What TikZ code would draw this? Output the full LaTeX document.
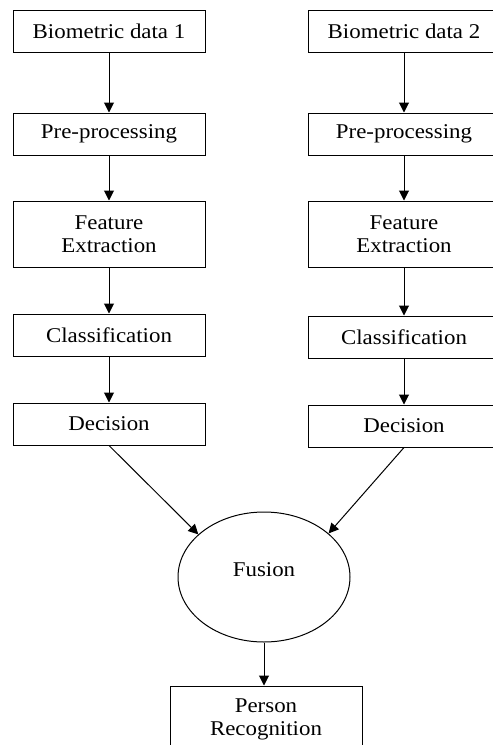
\documentclass[tikz,border=0pt]{standalone}
\usepackage{fontspec}
\setmainfont{Liberation Serif}[FakeStretch=1.09]
\usetikzlibrary{arrows.meta,shapes.geometric}

\tikzset{
	etapa/.style={draw, line width=1pt, minimum width=192pt, minimum height=42pt, align=center, inner sep=2pt},
	etapaalta/.style={etapa, minimum height=66pt},
	flecha/.style={line width=1pt, -{Triangle[width=10pt,length=10pt]}}
}

\begin{document}
\fontsize{21}{23}\selectfont
\begin{tikzpicture}[x=1pt, y=-1pt]
	\useasboundingbox (0,0) rectangle (493,745);

% Rama 1
	\node[etapa]     (bio1) at (109,31.5) {Biometric data 1};
	\node[etapa]     (pre1) at (109,134)  {Pre-processing};
	\node[etapaalta] (fea1) at (109,234)  {Feature\\Extraction};
	\node[etapa]     (cla1) at (109,335)  {Classification};
	\node[etapa]     (dec1) at (109,424)  {Decision};

% Rama 2
	\node[etapa]     (bio2) at (404,31.5) {Biometric data 2};
	\node[etapa]     (pre2) at (404,134)  {Pre-processing};
	\node[etapaalta] (fea2) at (404,234)  {Feature\\Extraction};
	\node[etapa]     (cla2) at (404,337)  {Classification};
	\node[etapa]     (dec2) at (404,426)  {Decision};

% Fusion y salida
	\node[draw, ellipse, line width=1pt, minimum width=172pt, minimum height=130pt, inner sep=0pt, text depth=14pt] (fusion) at (264,577) {Fusion};
	\node[etapaalta] (person) at (266,719) {Person\\Recognition};

% Flechas
	\foreach \r in {1,2} {
		\draw[flecha] (bio\r) -- (pre\r);
		\draw[flecha] (pre\r) -- (fea\r);
		\draw[flecha] (fea\r) -- (cla\r);
		\draw[flecha] (cla\r) -- (dec\r);
	}
	\draw[flecha] (dec1.south) -- (fusion.147);
	\draw[flecha] (dec2.south) -- (fusion.34);
	\draw[flecha] (fusion.south) -- (fusion.south |- person.north);

\end{tikzpicture}
\end{document}
